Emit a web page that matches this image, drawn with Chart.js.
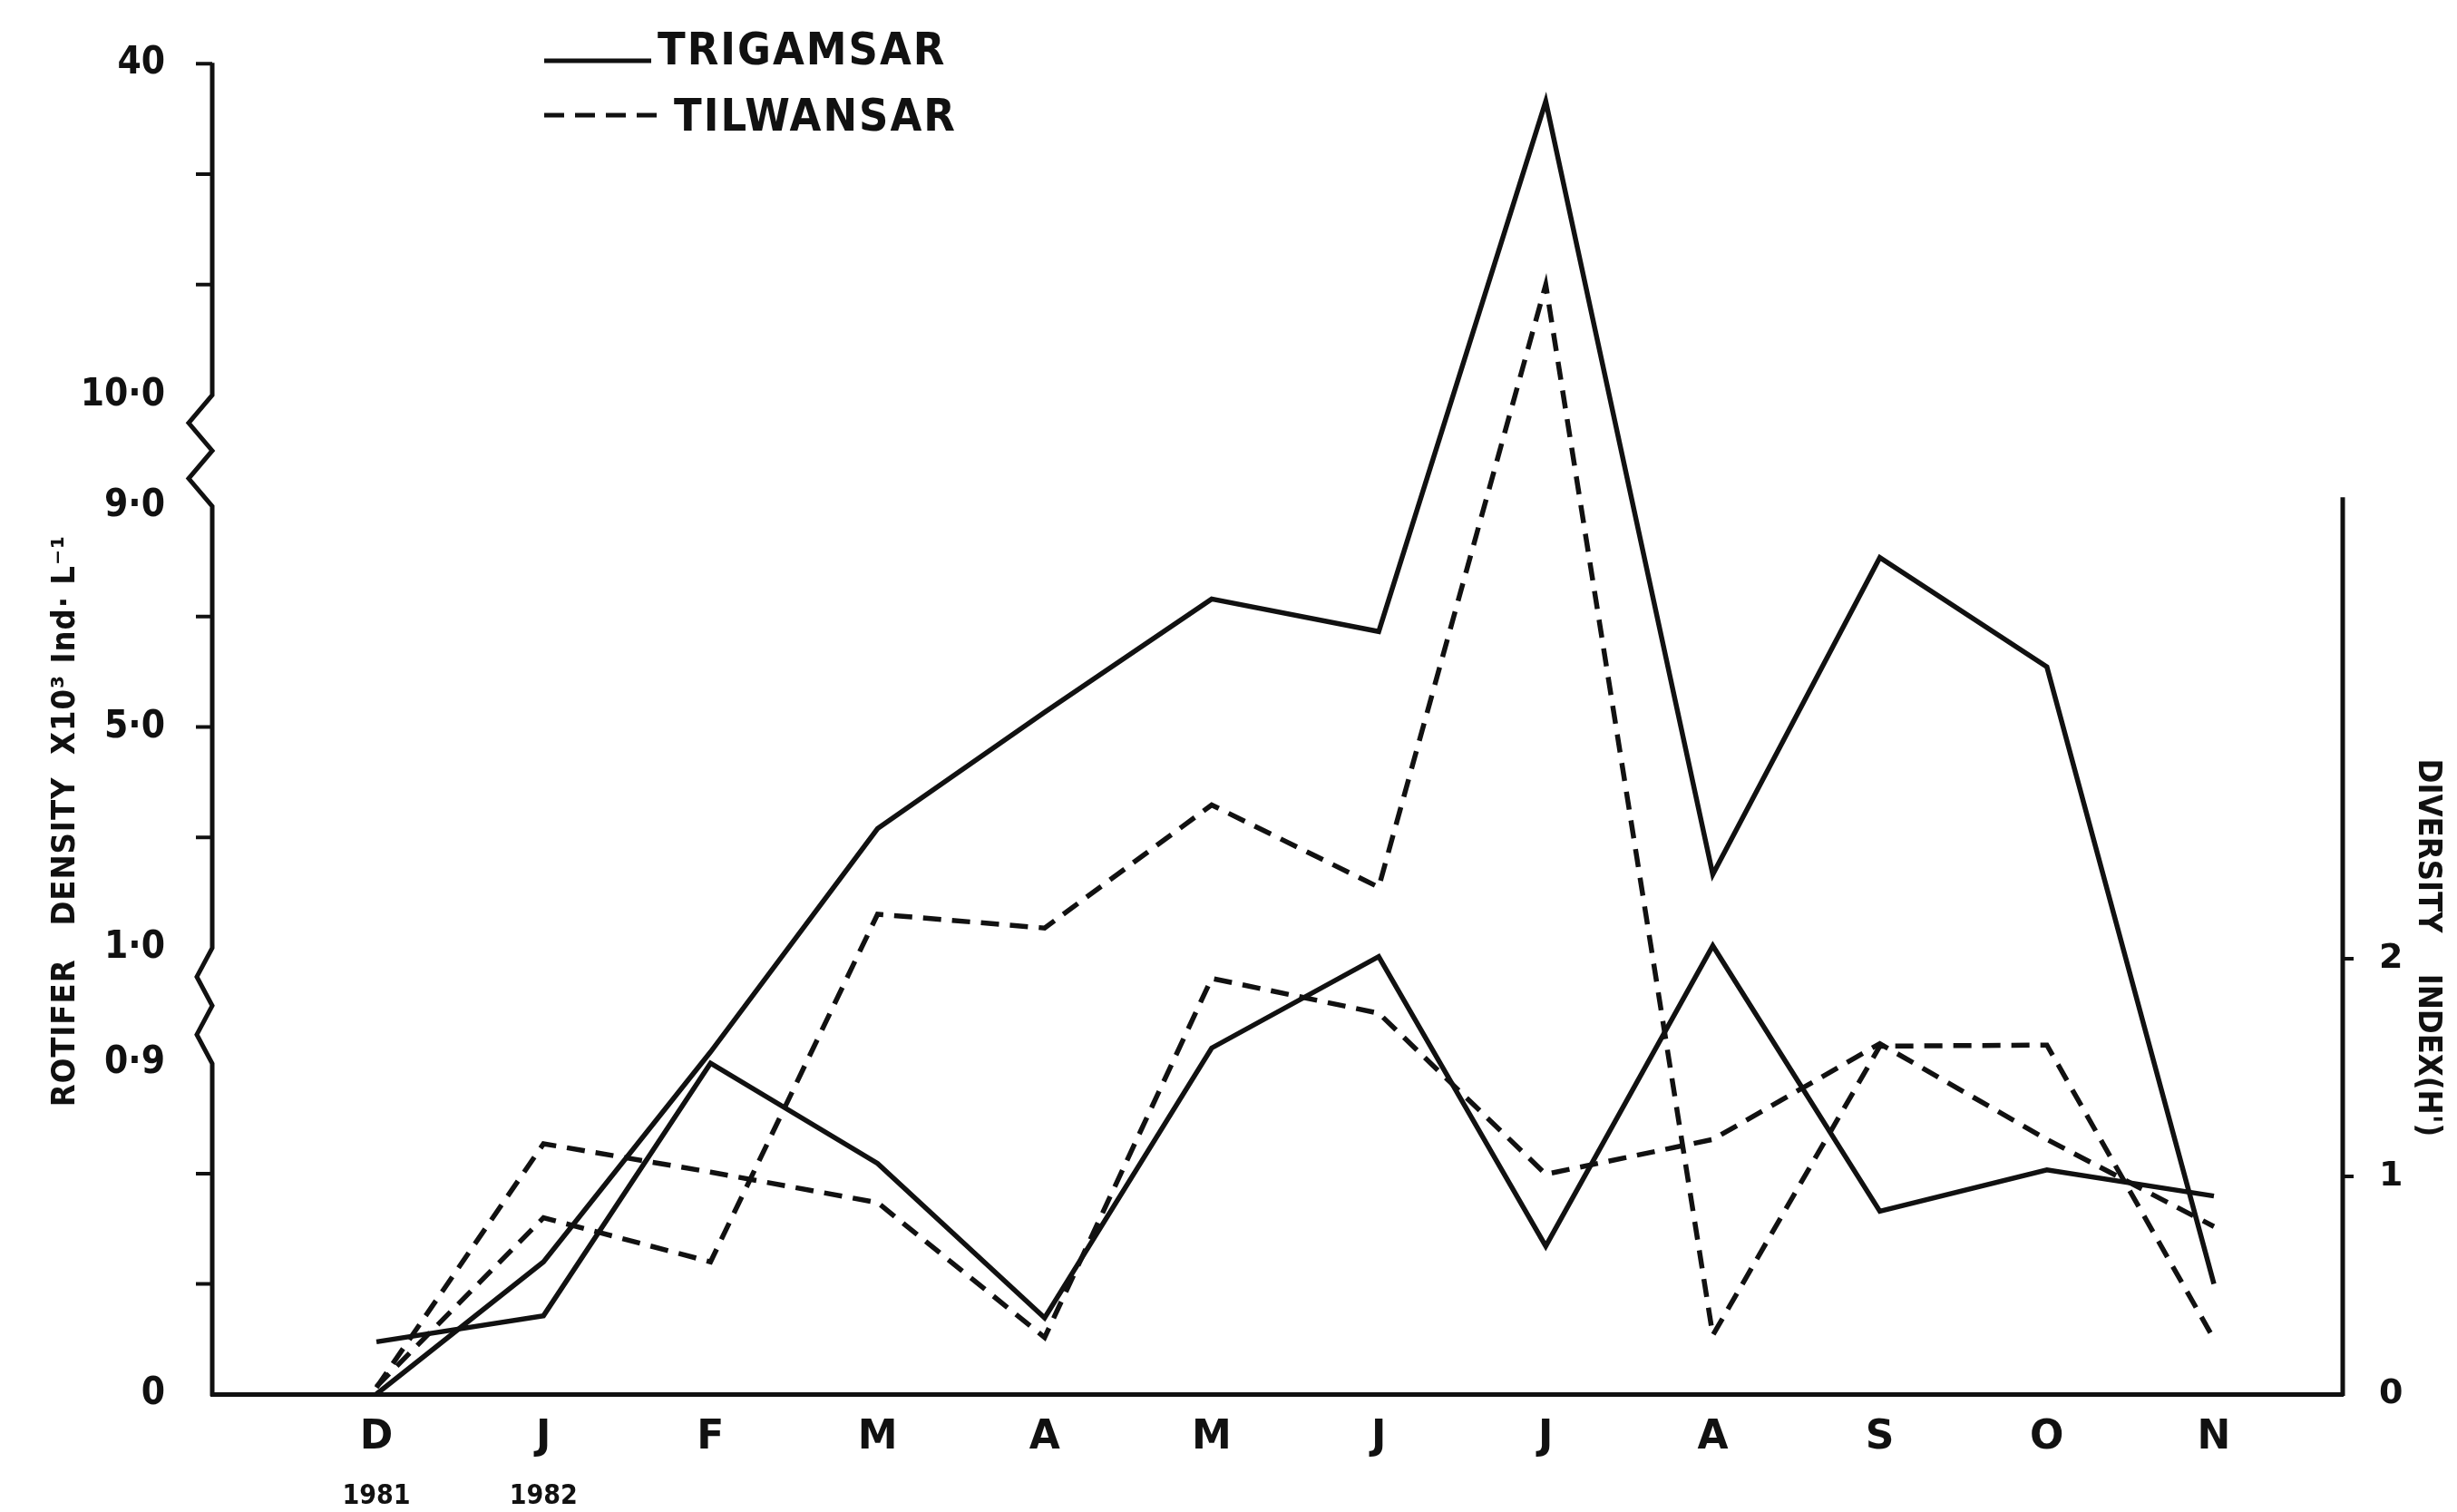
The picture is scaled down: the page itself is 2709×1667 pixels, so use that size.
<!DOCTYPE html>
<html>
<head>
<meta charset="utf-8">
<title>Rotifer density and diversity index</title>
<script src="https://cdn.jsdelivr.net/npm/chart.js@4.4.1/dist/chart.umd.min.js"></script>
<style>
  html, body { margin: 0; padding: 0; background: #fff; }
  #wrap { width: 2709px; height: 1667px; }
</style>
</head>
<body>
<div id="wrap"><canvas id="chart" width="2709" height="1667"></canvas></div>
<script>
const months = ["D", "J", "F", "M", "A", "M", "J", "J", "A", "S", "O", "N"];
const yearLabels = ["1981", "1982"];

// rotifer density x10^3 ind. per litre
const densityTrigamsar = [0, 0.36, 0.91, 3.16, 5.27, 7.32, 6.73, 36.6, 2.33, 8.07, 6.09, 0.30];
const densityTilwansar = [0.02, 0.48, 0.36, 1.61, 1.36, 3.59, 2.10, 20.0, 0.16, 0.915, 0.916, 0.15];

// diversity index H'
const diversityTrigamsar = [0.24, 0.36, 1.52, 1.06, 0.35, 1.59, 2.01, 0.68, 2.06, 0.84, 1.03, 0.91];
const diversityTilwansar = [0.03, 1.15, 1.02, 0.88, 0.26, 1.91, 1.75, 1.01, 1.17, 1.61, 1.17, 0.77];

const densityTickValues = [0, 0.9, 1.0, 5.0, 9.0, 10.0, 40];
const densityTickLabels = ["0", "0\u00b79", "1\u00b70", "5\u00b70", "9\u00b70", "10\u00b70", "40"];
const densityTickMarks = [40, 30, 20, 7, 5, 3, 0.6, 0.3];
const diversityTickValues = [0, 1, 2];
const diversityTickLabels = ["0", "1", "2"];

const INK = "#111";
const FONT = "\"DejaVu Sans\", \"Liberation Sans\", sans-serif";
const NARROW = "\"DejaVu Sans Condensed\", " + FONT;

// broken density axis: each segment gets its own stretch of the axis
const densityBreaks = [[0, 0], [0.9, 366], [1.0, 494], [9.0, 983], [10.0, 1106], [40, 1473]];
const DENSITY_AXIS_MAX = 1474;
const DIVERSITY_AXIS_MAX = 1468 / 240;
const DIVERSITY_AXIS_TOP = 4.12;

function densityPos(v) {
  for (let i = 1; i < densityBreaks.length; i++) {
    const [v0, p0] = densityBreaks[i - 1];
    const [v1, p1] = densityBreaks[i];
    if (v <= v1 || i === densityBreaks.length - 1) {
      return p0 + (v - v0) * (p1 - p0) / (v1 - v0);
    }
  }
  return 0;
}

function toPoints(values, mapFn) {
  return values.map((v, i) => ({ x: i, y: mapFn ? mapFn(v) : v }));
}

function zigzag(ctx, x, yTop, yBottom, w) {
  const h = yBottom - yTop;
  ctx.lineTo(x - w, yTop + h * 0.25);
  ctx.lineTo(x, yTop + h * 0.5);
  ctx.lineTo(x - w, yTop + h * 0.75);
  ctx.lineTo(x, yBottom);
}

const decorPlugin = {
  id: "decor",
  afterDraw(chart) {
    const { ctx, chartArea: area, scales } = chart;
    const yL = scales.y;
    const yR = scales.y1;
    const xS = scales.x;
    const py = (v) => yL.getPixelForValue(densityPos(v));

    ctx.save();
    ctx.strokeStyle = INK;
    ctx.fillStyle = INK;
    ctx.lineJoin = "miter";

    // left axis with the two breaks
    ctx.lineWidth = 5;
    ctx.beginPath();
    ctx.moveTo(area.left, area.top);
    ctx.lineTo(area.left, py(10));
    zigzag(ctx, area.left, py(10), py(9), 26);
    ctx.lineTo(area.left, py(1.0));
    zigzag(ctx, area.left, py(1.0), py(0.9), 17);
    ctx.lineTo(area.left, area.bottom + 2);
    ctx.stroke();

    ctx.lineWidth = 4;
    ctx.beginPath();
    densityTickMarks.forEach((v) => {
      ctx.moveTo(area.left - 18, py(v));
      ctx.lineTo(area.left, py(v));
    });
    ctx.stroke();

    // right axis (only up to its top)
    const rTop = yR.getPixelForValue(DIVERSITY_AXIS_TOP);
    ctx.lineWidth = 5;
    ctx.beginPath();
    ctx.moveTo(area.right, rTop);
    ctx.lineTo(area.right, area.bottom + 2);
    ctx.stroke();
    ctx.lineWidth = 4;
    ctx.beginPath();
    [1, 2].forEach((v) => {
      ctx.moveTo(area.right, yR.getPixelForValue(v));
      ctx.lineTo(area.right + 12, yR.getPixelForValue(v));
    });
    ctx.stroke();

    // axis titles
    ctx.textAlign = "center";
    ctx.textBaseline = "middle";
    ctx.font = "bold 36px " + NARROW;
    ctx.save();
    ctx.translate(73, 905);
    ctx.rotate(-Math.PI / 2);
    ctx.letterSpacing = "1px";
    ctx.fillText("ROTIFER   DENSITY  X10\u00b3 Ind\u00b7 L\u207b\u00b9", 0, 0);
    ctx.restore();

    ctx.save();
    ctx.translate(2676, 1045);
    ctx.rotate(Math.PI / 2);
    ctx.fillText("DIVERSITY    INDEX(H')", 0, 0);
    ctx.restore();

    // years under the first two months
    ctx.font = "bold 30px " + NARROW;
    yearLabels.forEach((y, i) => {
      ctx.fillText(y, xS.getPixelForValue(i), 1650);
    });

    // legend
    ctx.lineWidth = 5;
    ctx.beginPath();
    ctx.moveTo(600, 67);
    ctx.lineTo(718, 67);
    ctx.stroke();
    ctx.setLineDash([22, 12]);
    ctx.beginPath();
    ctx.moveTo(600, 127);
    ctx.lineTo(724, 127);
    ctx.stroke();
    ctx.setLineDash([]);

    ctx.textAlign = "left";
    ctx.textBaseline = "alphabetic";
    ctx.font = "bold 50px " + NARROW;
    ctx.letterSpacing = "2px";
    ctx.fillText("TRIGAMSAR", 725, 71);
    ctx.fillText("TILWANSAR", 743, 144);
    ctx.letterSpacing = "0px";

    ctx.restore();
  }
};

function lineSet(label, data, axis, dashed) {
  return {
    label,
    data,
    yAxisID: axis,
    borderColor: INK,
    borderWidth: 5.5,
    borderDash: dashed ? [20, 12] : [],
    pointRadius: 0,
    tension: 0,
    fill: false
  };
}

function renderChart() {
  const canvas = document.getElementById("chart");

  new Chart(canvas, {
    type: "line",
    data: {
      datasets: [
        lineSet("Trigamsar density", toPoints(densityTrigamsar, densityPos), "y", false),
        lineSet("Tilwansar density", toPoints(densityTilwansar, densityPos), "y", true),
        lineSet("Trigamsar diversity", toPoints(diversityTrigamsar), "y1", false),
        lineSet("Tilwansar diversity", toPoints(diversityTilwansar), "y1", true)
      ]
    },
    options: {
      responsive: false,
      animation: false,
      devicePixelRatio: 1,
      layout: { padding: { top: 69, right: 0, bottom: 0, left: 0 } },
      plugins: {
        legend: { display: false },
        tooltip: { enabled: false }
      },
      scales: {
        x: {
          type: "linear",
          min: -0.983,
          max: 11.771,
          afterBuildTicks: (s) => { s.ticks = months.map((m, i) => ({ value: i })); },
          afterFit: (s) => { s.height = 130; },
          grid: { display: false },
          border: { display: true, color: INK, width: 5 },
          ticks: {
            autoSkip: false,
            maxRotation: 0,
            padding: 14,
            color: INK,
            font: { family: FONT, weight: "bold", size: 44 },
            callback: (v, i) => months[i]
          }
        },
        y: {
          position: "left",
          min: 0,
          max: DENSITY_AXIS_MAX,
          afterBuildTicks: (s) => { s.ticks = densityTickValues.map((v) => ({ value: densityPos(v) })); },
          afterFit: (s) => { s.width = 234; },
          grid: { display: false },
          border: { display: false },
          ticks: {
            padding: 44,
            color: INK,
            font: { family: NARROW, weight: "bold", size: 42 },
            callback: (v, i) => densityTickLabels[i]
          }
        },
        y1: {
          position: "right",
          min: 0,
          max: DIVERSITY_AXIS_MAX,
          afterBuildTicks: (s) => { s.ticks = diversityTickValues.map((v) => ({ value: v })); },
          afterFit: (s) => { s.width = 126; },
          grid: { display: false },
          border: { display: false },
          ticks: {
            padding: 32,
            color: INK,
            font: { family: FONT, weight: "bold", size: 38 },
            callback: (v, i) => diversityTickLabels[i]
          }
        }
      }
    },
    plugins: [decorPlugin]
  });
}

document.addEventListener("DOMContentLoaded", renderChart);
</script>
</body>
</html>
